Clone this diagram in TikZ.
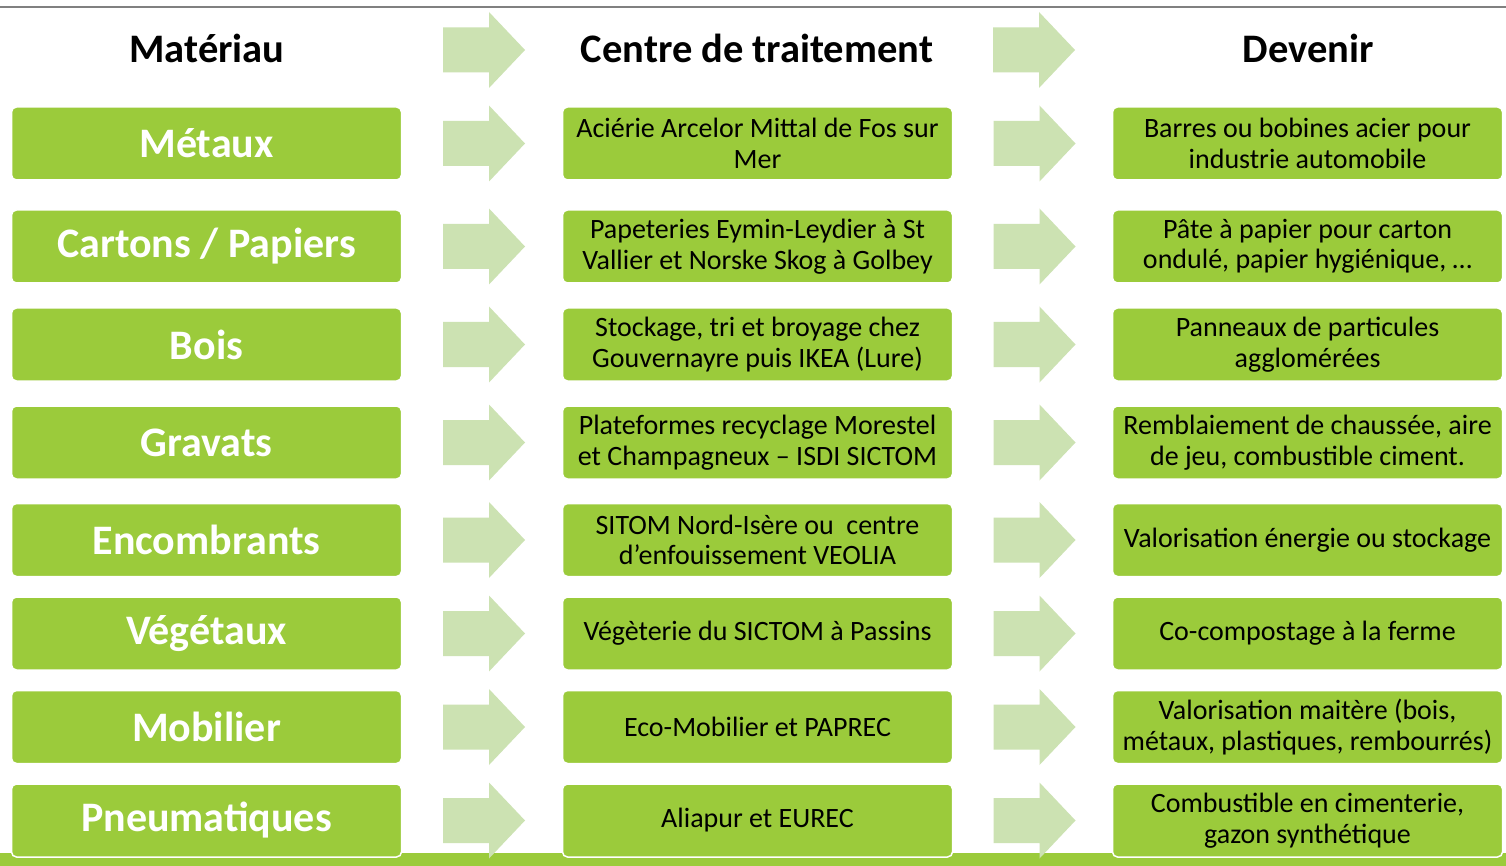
\documentclass[tikz,border=0pt]{standalone}
\usepackage{fontspec}
\setmainfont{Carlito}
\usetikzlibrary{calc}
\definecolor{boxgreen}{HTML}{9BCB3B}
\definecolor{arrowgreen}{HTML}{CCE2B2}
\definecolor{rulegray}{HTML}{808080}
\tikzset{
  basebox/.style={rectangle, rounded corners=5pt, fill=boxgreen, draw=white, line width=1.5pt,
    minimum width=390pt, minimum height=73pt, inner sep=1pt, align=center},
  matbox/.style={basebox, text=white, font=\fontsize{42}{46}\selectfont\bfseries},
  txtbox/.style={basebox, text=black, font=\fontsize{28}{30.5}\selectfont},
  headtxt/.style={text=black, font=\fontsize{40.5}{44}\selectfont\bfseries, inner sep=0pt},
  fatarrow/.pic={\fill[arrowgreen] (-41,-22.5) -- (5,-22.5) -- (5,-38) -- (41,0) -- (5,38) -- (5,22.5) -- (-41,22.5) -- cycle;}
}
\begin{document}
\begin{tikzpicture}[x=1pt,y=-1pt]
\useasboundingbox (0,0) rectangle (1506,866);
\fill[white] (0,0) rectangle (1506,866);
% top rule and bottom band
\draw[rulegray, line width=1.5pt] (0,7) -- (1506,7);
\fill[boxgreen] (0,853) rectangle (1506,866);

% headers
\node[headtxt] (h1) at (207,48) {Matériau};
\node[headtxt] (h2) at (757,48) {Centre de traitement};
\node[headtxt] (h3) at (1308,48) {Devenir};
\pic at (484,50) {fatarrow};
\pic at (1034,50) {fatarrow};

% rows
\foreach \r/\y/\ma/\ce/\de in {
  1/143.5/{Métaux}/{Aciérie Arcelor Mittal de Fos sur\\Mer}/{Barres ou bobines acier pour\\industrie automobile},
  2/246.5/{Cartons / Papiers}/{Papeteries Eymin-Leydier à St\\Vallier et Norske Skog à Golbey}/{Pâte à papier pour carton\\ondulé, papier hygiénique, …},
  3/344.5/{Bois}/{Stockage, tri et broyage chez\\Gouvernayre puis IKEA (Lure)}/{Panneaux de particules\\agglomérées},
  4/442.5/{Gravats}/{Plateformes recyclage Morestel\\et Champagneux – ISDI SICTOM}/{Remblaiement de chaussée, aire\\de jeu, combustible ciment.},
  5/540/{Encombrants}/{SITOM Nord-Isère ou\ \ centre\\d’enfouissement VEOLIA}/{Valorisation énergie ou stockage},
  6/633.5/{Végétaux}/{Végèterie du SICTOM à Passins}/{Co-compostage à la ferme},
  7/727/{Mobilier}/{Eco-Mobilier et PAPREC}/{Valorisation maitère (bois,\\métaux, plastiques, rembourrés)},
  8/820.5/{Pneumatiques}/{Aliapur et EUREC}/{Combustible en cimenterie,\\gazon synthétique}}
{
  \node[matbox] (m\r) at (206.5,\y) {\ma};
  \node[txtbox] (c\r) at (757.5,\y) {\ce};
  \node[txtbox] (d\r) at (1307.5,\y) {\de};
  \pic at ($(m\r.east)!0.5!(c\r.west)+(2,0)$) {fatarrow};
  \pic at ($(c\r.east)!0.5!(d\r.west)+(2,0)$) {fatarrow};
}
\end{tikzpicture}
\end{document}
